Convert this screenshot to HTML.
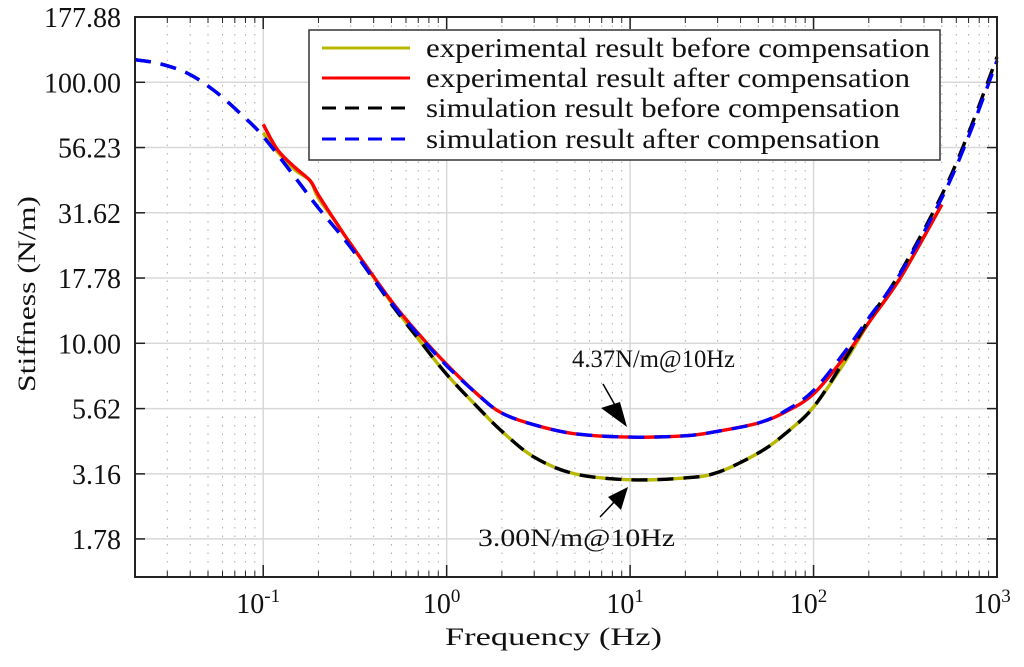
<!DOCTYPE html>
<html><head><meta charset="utf-8"><style>
html,body{margin:0;padding:0;background:#fff;}
svg text{font-family:"Liberation Serif",serif;fill:#111;}
</style></head><body>
<svg id="chart" width="1024" height="662" xmlns="http://www.w3.org/2000/svg">
<g id="grid"></g>
<g id="series"></g>
<rect x="135" y="17" width="862" height="560" fill="none" stroke="#222" stroke-width="2"/>
<g id="ticks"></g>
<text transform="translate(35,294) rotate(-90)" text-anchor="middle" font-size="25" textLength="196" lengthAdjust="spacingAndGlyphs">Stiffness (N/m)</text>
<text x="445" y="645" font-size="25" textLength="217" lengthAdjust="spacingAndGlyphs">Frequency  (Hz)</text>
<g>
<rect x="309" y="30" width="631" height="130" fill="#fff" stroke="#333" stroke-width="1.5"/>
<g><line x1="322" y1="48" x2="410" y2="48" stroke="#b8b800" stroke-width="3"/><text x="426" y="57" font-size="27" textLength="504" lengthAdjust="spacingAndGlyphs">experimental result before compensation</text></g>
<g><line x1="322" y1="78" x2="410" y2="78" stroke="#f00" stroke-width="3"/><text x="426" y="87" font-size="27" textLength="484" lengthAdjust="spacingAndGlyphs">experimental result after compensation</text></g>
<g><line x1="322" y1="108" x2="410" y2="108" stroke="#000" stroke-width="3" stroke-dasharray="14,9"/><text x="426" y="117" font-size="27" textLength="474" lengthAdjust="spacingAndGlyphs">simulation result before compensation</text></g>
<g><line x1="322" y1="139" x2="410" y2="139" stroke="#00f" stroke-width="3" stroke-dasharray="14,9"/><text x="426" y="148" font-size="27" textLength="454" lengthAdjust="spacingAndGlyphs">simulation result after compensation</text></g>
</g>
<g>
<text x="572" y="367" font-size="25" textLength="163" lengthAdjust="spacingAndGlyphs">4.37N/m@10Hz</text>
<line x1="603" y1="384" x2="620" y2="414" stroke="#000" stroke-width="1.5"/>
<polygon points="627,427 601,408 620,402" fill="#000"/>
</g>
<g>
<text x="478" y="546" font-size="25" textLength="197" lengthAdjust="spacingAndGlyphs">3.00N/m@10Hz</text>
<line x1="600" y1="517" x2="618" y2="498" stroke="#000" stroke-width="1.5"/>
<polygon points="628,487 621,510 608,497" fill="#000"/>
</g>
</svg>
<script>
const simFreq=[0.02,0.027,0.039,0.055,0.078,0.1,0.15,0.2,0.3,0.5,0.7,1,1.5,2,3,5,10,20,30,50,70,100,150,200,300,500,700,1000];
const simAfter=[122,118,108,92,74,62,43,33,23.3,14.3,10.8,8.2,6.3,5.4,4.87,4.5,4.37,4.42,4.6,4.95,5.5,6.6,9.4,12.5,18.7,36,62,121];
const simBefore=[122,118,108,92,74,62,43,33,23.3,14.1,10.4,7.6,5.62,4.6,3.66,3.16,3.0,3.05,3.2,3.8,4.5,5.7,8.8,12.3,18.9,37,64,125];
const expFreq=[0.1,0.12,0.15,0.18,0.2,0.25,0.3,0.5,0.7,1,1.5,2,3,5,10,20,30,50,70,100,150,200,300,500];
const expAfter=[69,55,47,42,37,29,24,14.5,10.9,8.3,6.3,5.4,4.87,4.5,4.37,4.42,4.6,4.95,5.45,6.4,9.0,12,18,34];
const expBefore=[64,54,46,42,36,29,24,14.3,10.4,7.6,5.62,4.6,3.66,3.16,3.0,3.05,3.2,3.8,4.5,5.7,8.6,12,18,34];
const yTicks=[1.78,3.16,5.62,10.00,17.78,31.62,56.23,100.00,177.88];
const xDecades=[-1,0,1,2,3];
const NS="http://www.w3.org/2000/svg";
const X0=135,X1=997,Y0=17,Y1=577;
const lxMin=Math.log10(0.02),lxMax=3,lyMax=Math.log10(177.88),lyMin=lyMax-(Y1-Y0)/261;
function sx(f){return X0+(Math.log10(f)-lxMin)/(lxMax-lxMin)*(X1-X0);}
function sy(v){return Y0+(lyMax-Math.log10(v))/(lyMax-lyMin)*(Y1-Y0);}
function mk(tag,attrs,parent){const e=document.createElementNS(NS,tag);for(const k in attrs)e.setAttribute(k,attrs[k]);parent.appendChild(e);return e;}
const grid=document.getElementById('grid'),ticks=document.getElementById('ticks'),series=document.getElementById('series');
for(let d=-2;d<3;d++){for(let m=1;m<10;m++){const f=m*Math.pow(10,d);if(f<0.02-1e-9)continue;const x=sx(f);
 if(m===1){const l=mk('line',{x1:x,y1:Y0,x2:x,y2:Y1,stroke:'#d8d8d8','stroke-width':1.5},grid);
 
 
 mk('line',{x1:x,y1:Y1,x2:x,y2:Y1-12,stroke:'#222','stroke-width':1.5},ticks);mk('line',{x1:x,y1:Y0,x2:x,y2:Y0+12,stroke:'#222','stroke-width':1.5},ticks);}
 else{const l=mk('line',{x1:x,y1:Y0,x2:x,y2:Y1,stroke:'#aaa','stroke-width':1,'stroke-dasharray':'1.5,7'},grid);
 
 
 mk('line',{x1:x,y1:Y1,x2:x,y2:Y1-6,stroke:'#222','stroke-width':1},ticks);mk('line',{x1:x,y1:Y0,x2:x,y2:Y0+6,stroke:'#222','stroke-width':1},ticks);}}}
xDecades.forEach(d=>{const x=sx(Math.pow(10,d));const t=mk('text',{x:x-5,y:613,'text-anchor':'middle','font-size':28},ticks);
 
 
 t.textContent='10';const s=mk('tspan',{dy:-11,'font-size':19},t);s.textContent=String(d);});
yTicks.forEach(v=>{const y=sy(v);
 if(v<177){const l=mk('line',{x1:X0,y1:y,x2:X1,y2:y,stroke:'#d8d8d8','stroke-width':1.5},grid);
 
 }
 mk('line',{x1:X0,y1:y,x2:X0+10,y2:y,stroke:'#222','stroke-width':1.5},ticks);mk('line',{x1:X1,y1:y,x2:X1-10,y2:y,stroke:'#222','stroke-width':1.5},ticks);
 const t=mk('text',{x:121,y:y+10,'text-anchor':'end','font-size':28},ticks);
 
 
 t.textContent=v.toFixed(2);});
function path(fr,vals,color,dash,name){
 const p=fr.map((f,i)=>[sx(f),sy(vals[i])]);
 let d='M'+p[0][0].toFixed(1)+','+p[0][1].toFixed(1);
 for(let i=0;i<p.length-1;i++){const a=p[Math.max(0,i-1)],b=p[i],c=p[i+1],e=p[Math.min(p.length-1,i+2)];
  const c1=[b[0]+(c[0]-a[0])/6,b[1]+(c[1]-a[1])/6],c2=[c[0]-(e[0]-b[0])/6,c[1]-(e[1]-b[1])/6];
  d+=' C'+c1.map(v=>v.toFixed(1)).join(',')+' '+c2.map(v=>v.toFixed(1)).join(',')+' '+c.map(v=>v.toFixed(1)).join(',');}
 const el=mk('path',{d:d,fill:'none',stroke:color,'stroke-width':3.4,'stroke-linejoin':'round'},series);
 if(dash)el.setAttribute('stroke-dasharray',dash);
 
 }
path(expFreq,expBefore,'#b8b800',null,'line-exp-before');
path(expFreq,expAfter,'#f00',null,'line-exp-after');
path(simFreq,simBefore,'#000','16,10','line-sim-before');
path(simFreq,simAfter,'#00f','16,10','line-sim-after');
</script>
</body></html>
